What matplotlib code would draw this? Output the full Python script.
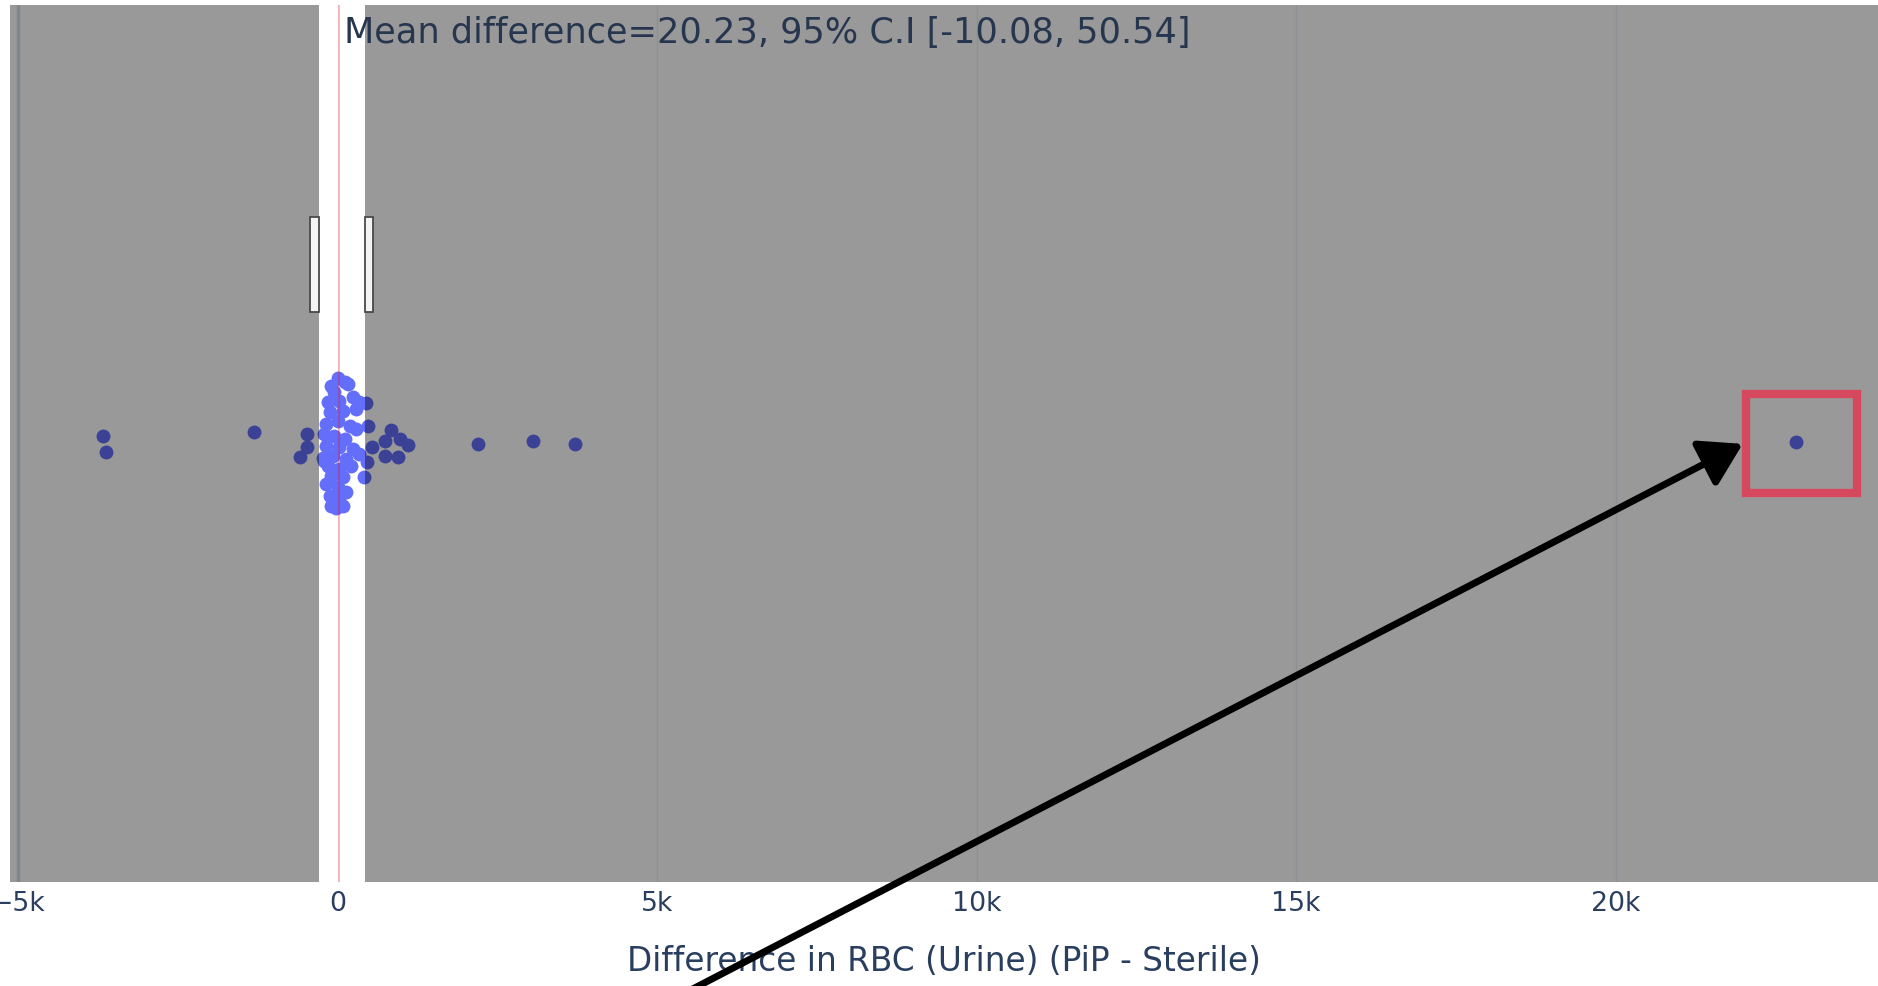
import matplotlib
matplotlib.use('agg')
import matplotlib.pyplot as plt
from matplotlib.patches import Rectangle

# paired differences (PiP - Sterile) and their strip jitter
diff = [5, 110, -99, 162, -47, -151, 31, 240, 344, -125, 83, 292, -177, 5, 188, 292,
        -204, -47, 110, -177, 31, 240, 344, -230, -73, 136, -151, 31, 214, -99, 83,
        -177, 5, 136, -125, 31, -99, 83, -21, -204,
        -3669, -3625, -1306, -476, -476, -592, 452, 485, 836, 745, 537, 978, 1096,
        745, 952, 459, 420, 2198, 3062, 3724, 22820]
jitter = [0.150, 0.140, 0.132, 0.136, 0.117, 0.094, 0.098, 0.105, 0.094, 0.071, 0.075,
          0.079, 0.044, 0.052, 0.041, 0.033, 0.022, 0.018, 0.010, -0.005, -0.009, -0.013,
          -0.024, -0.032, -0.028, -0.035, -0.051, -0.058, -0.051, -0.073, -0.077, -0.092,
          -0.100, -0.111, -0.119, -0.127, -0.142, -0.142, -0.146, -0.039,
          0.016, -0.020, 0.027, 0.022, -0.009, -0.031, 0.092, 0.039, 0.031, 0.006, -0.009,
          0.010, -0.003, -0.028, -0.031, -0.043, -0.077, 0.000, 0.006, -0.001, 0.003]

mean_diff = 20.23
ci_low, ci_high = -10.08, 50.54
clear_band = (-297, 438)
edge_bars = [(-423, -297), (438, 563)]
bar_span = (0.300, 0.517)

xticks = [-5000, 0, 5000, 10000, 15000, 20000]
xticklabels = ['\u22125k', '0', '5k', '10k', '15k', '20k']
xlim = (-5125, 24107)

W, H = 1878, 987
fig = plt.figure(figsize=(W / 100, H / 100), dpi=100)
ax = fig.add_axes([10 / W, 104 / H, 1 - 10 / W, 877 / H])
ax.set_facecolor('white')
ax.set_xlim(xlim)
ax.set_ylim(-1, 1)

for t in xticks:
    ax.axvline(t, color='#EBF0F8', lw=1, zorder=0.5)
ax.axvline(xticks[0], color='#d9dfec', lw=2.5, zorder=0.6)

ax.scatter(diff, jitter, s=100, color='#636efa', lw=0, zorder=2)
ax.axvline(mean_diff, color=(1, 0, 0, 0.25), lw=1.5, zorder=3)

# dim everything outside the band
ax.axvspan(xlim[0], clear_band[0], color='black', alpha=0.4, lw=0, zorder=4)
ax.axvspan(clear_band[1], xlim[1], color='black', alpha=0.4, lw=0, zorder=4)

for x0, x1 in edge_bars:
    ax.add_patch(Rectangle((x0, bar_span[0]), x1 - x0, bar_span[1] - bar_span[0],
                           facecolor='#f4f4f4', edgecolor='#4a4a4a', lw=1.3, zorder=5))

ax.annotate(f'Mean difference={mean_diff:.2f}, 95% C.I [{ci_low:.2f}, {ci_high:.2f}]',
            xy=(mean_diff, 0.969), xycoords=('data', 'axes fraction'),
            xytext=(3.5, 0), textcoords='offset points', ha='left', va='center',
            fontsize=25.3, color='#27364f', zorder=6)

ax.set_xticks(xticks)
ax.set_xticklabels(xticklabels)
ax.set_yticks([])
ax.tick_params(axis='x', length=0, pad=6, labelsize=19.3, labelcolor='#2a3f5f')
for s in ax.spines.values():
    s.set_visible(False)
ax.set_xlabel('Difference in RBC (Urine) (PiP - Sterile)', fontsize=23.6, color='#2a3f5f',
              labelpad=20)

# highlight the far outlier
px, py = ax.transData.transform((diff[-1], jitter[-1]))
fig.patches.append(Rectangle((px - 50, py - 51), 111, 99, transform=None, fill=False,
                             edgecolor='#d6485d', lw=6, zorder=10))
tip = (px - 53, py - 1.7)
tail = (tip[0] - 1310, tip[1] - 680)
ax.annotate('', xy=tip, xycoords='figure pixels', xytext=tail, textcoords='figure pixels',
            annotation_clip=False,
            arrowprops=dict(arrowstyle='-|>,head_length=0.9,head_width=0.55',
                            mutation_scale=28, lw=5, color='black',
                            shrinkA=0, shrinkB=0), zorder=11)

fig.savefig('out.png', dpi=100)
